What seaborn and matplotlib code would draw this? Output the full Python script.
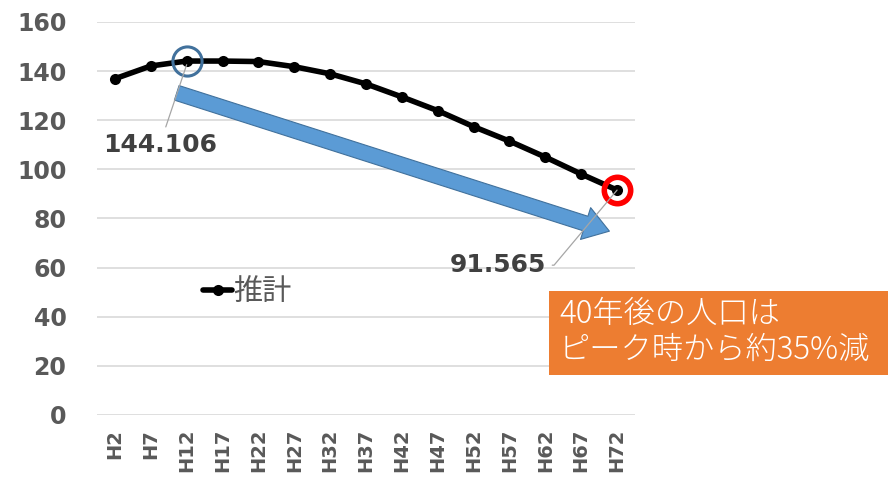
import matplotlib
matplotlib.use("Agg")
import matplotlib.pyplot as plt
from matplotlib.patches import FancyArrowPatch, Rectangle
import pandas as pd
import seaborn as sns

# data
eras = ["H2", "H7", "H12", "H17", "H22", "H27", "H32", "H37",
        "H42", "H47", "H52", "H57", "H62", "H67", "H72"]
population = [136.9, 142.1, 144.106, 144.1, 143.9, 141.8, 138.9, 134.8,
              129.5, 123.9, 117.4, 111.5, 105.0, 98.1, 91.565]
series_name = "推計"
yticks = [0, 20, 40, 60, 80, 100, 120, 140, 160]
note_lines = ["40年後の人口は", "ピーク時から約35%減"]

df = pd.DataFrame({"era": eras, "pop": population, "series": series_name})
df["pos"] = range(len(df))

sns.set_theme(style="white")
plt.rcParams["font.family"] = ["DejaVu Sans", "Noto Sans CJK JP"]
jp = ["Noto Sans CJK JP", "DejaVu Sans"]

fig = plt.figure(figsize=(8.96, 4.8), dpi=100, facecolor="white")
ax = fig.add_axes([97 / 896, 65 / 480, 538 / 896, 393 / 480])

sns.lineplot(data=df, x="pos", y="pop", hue="series", palette=["black"],
             marker="o", markersize=8, markeredgewidth=0, linewidth=4,
             ax=ax, legend=False)

ax.set_xlim(-0.5, len(eras) - 0.5)
ax.set_ylim(0, 160)
ax.set_yticks(yticks)
ax.set_xticks(range(len(eras)))
ax.set_xticklabels(eras, rotation=90, fontsize=14, fontweight="bold", color="#595959")
ax.set_yticklabels([str(t) for t in yticks], fontsize=17, fontweight="bold", color="#595959")
ax.tick_params(axis="y", length=0, pad=22)
ax.tick_params(axis="x", length=0, pad=10)
ax.set_xlabel("")
ax.set_ylabel("")
ax.yaxis.grid(True, color="#D9D9D9", linewidth=1.2)
ax.xaxis.grid(False)
for s in ax.spines.values():
    s.set_visible(False)

peak = population.index(max(population))
last = len(population) - 1

# highlight circles
ax.plot([peak], [population[peak]], marker="o", markersize=21, markerfacecolor="none",
        markeredgecolor="#41719C", markeredgewidth=2.2, linestyle="none", clip_on=False)
ax.plot([last], [population[last]], marker="o", markersize=19, markerfacecolor="none",
        markeredgecolor="#FF0000", markeredgewidth=4, linestyle="none", clip_on=False)

# data labels with leader lines
ax.annotate(f"{population[peak]:.3f}", xy=(peak, population[peak] - 1.5), xytext=(1.25, 110),
            ha="center", va="center", fontsize=18, fontweight="bold", color="#404040",
            arrowprops=dict(arrowstyle="-", color="#A6A6A6", lw=0.9, shrinkA=2, shrinkB=0))
ax.annotate(f"{population[last]:.3f}", xy=(last, population[last]), xytext=(10.68, 61),
            ha="center", va="center", fontsize=18, fontweight="bold", color="#404040",
            arrowprops=dict(arrowstyle="-", color="#A6A6A6", lw=0.9, shrinkA=2, shrinkB=0,
                            connectionstyle="angle,angleA=0,angleB=50,rad=0"))

# big blue trend arrow
arrow = FancyArrowPatch((1.65, 131.5), (13.86, 74.5),
                        arrowstyle="simple,head_length=1.8,head_width=2.4,tail_width=1.1",
                        mutation_scale=10, facecolor="#5B9BD5", edgecolor="#41719C",
                        linewidth=0.8, zorder=1)
ax.add_patch(arrow)

# legend
handle = ax.lines[0]
leg = ax.legend([handle], [series_name], loc="center left",
                bbox_to_anchor=(203 / 896, 1 - 292 / 480), bbox_transform=fig.transFigure,
                frameon=False, borderpad=0, borderaxespad=0, handlelength=1.0,
                handletextpad=0.05, prop={"family": jp, "size": 21})
for t in leg.get_texts():
    t.set_color("#595959")

# orange note box
fig.patches.append(Rectangle((549 / 896, 1 - 375 / 480), 339 / 896, 84 / 480,
                             transform=fig.transFigure, facecolor="#ED7D31",
                             edgecolor="none", zorder=5))
fig.text(559 / 896, 1 - 332 / 480, "\n".join(note_lines), ha="left", va="center",
         fontsize=22.5, fontweight="light", color="white", family=jp,
         linespacing=1.15, zorder=6)

fig.savefig("out.png", dpi=100, facecolor="white")
